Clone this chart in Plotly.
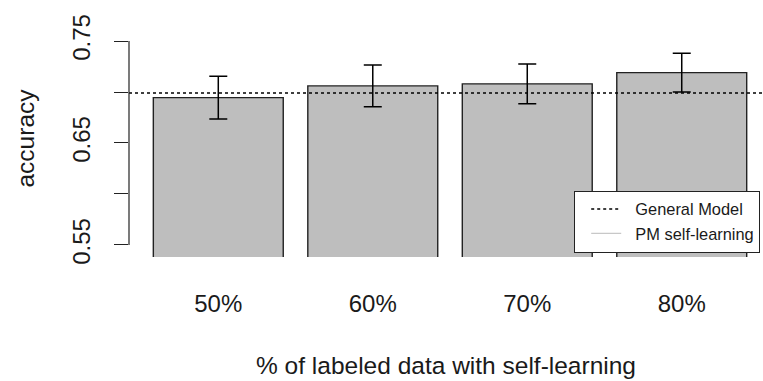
import plotly.graph_objects as go

categories = ["50%", "60%", "70%", "80%"]
accuracy = [0.6945, 0.706, 0.708, 0.719]
errors = [0.021, 0.0205, 0.0195, 0.019]
general_model = 0.699
y_ticks = [0.55, 0.60, 0.65, 0.70, 0.75]
y_tick_labels = ["0.55", "", "0.65", "", "0.75"]
legend_names = ["General Model", "PM self-learning"]

FONT = "Liberation Sans, Arial, sans-serif"
PAD = "\u00a0\u00a0"

fig = go.Figure()
fig.add_trace(go.Bar(
    x=categories, y=accuracy,
    marker=dict(color="#BEBEBE", line=dict(color="#222222", width=1.4)),
    error_y=dict(type="data", array=errors, visible=True, color="black",
                 thickness=1.5, width=9),
    showlegend=False, width=0.841,
))
fig.add_hline(y=general_model, line=dict(color="black", width=1.5, dash="dot"))

fig.add_trace(go.Scatter(x=[None], y=[None], mode="lines", name=PAD + legend_names[0],
                         line=dict(color="black", width=1.5, dash="dot"),
                         legendgroup="a"))
fig.add_trace(go.Scatter(x=[None], y=[None], mode="lines", name=PAD + legend_names[1],
                         line=dict(color="#C8C8C8", width=1.2),
                         legendgroup="b"))

# y axis line restricted to tick span
fig.add_shape(type="line", xref="paper", yref="y", x0=0, x1=0,
              y0=y_ticks[0], y1=y_ticks[-1], line=dict(color="#222222", width=1.2))

fig.update_layout(
    width=763, height=381,
    margin=dict(l=129, r=0, t=20, b=124, autoexpand=False),
    paper_bgcolor="white", plot_bgcolor="white",
    font=dict(family=FONT, size=24, color="#1a1a1a"),
    bargap=0.159,
    legend=dict(x=0.7019, y=0.2797, xanchor="left", yanchor="top",
                bgcolor="white", bordercolor="#222222", borderwidth=1.2,
                font=dict(size=16.4, color="#1a1a1a"), itemwidth=30,
                tracegroupgap=0, indentation=11),
    xaxis=dict(range=[-0.578, 3.526], showline=False, showgrid=False,
               zeroline=False, ticks="", ticklabelstandoff=30,
               title=dict(text="% of labeled data with self-learning", standoff=40,
                          font=dict(size=24.5)),
               automargin=False),
    yaxis=dict(range=[0.5382, 0.7706], tickvals=y_ticks, ticktext=y_tick_labels,
               tickangle=-90, ticks="outside", ticklen=14, tickcolor="#222222",
               tickwidth=1.2, showgrid=False, zeroline=False, showline=False,
               ticklabelstandoff=14,
               title=dict(text="accuracy", standoff=26, font=dict(size=24.5)),
               automargin=False),
)

fig.write_html("out.html", config={"displayModeBar": False},
               post_script="document.body.style.margin='0';document.body.style.overflow='hidden';")
